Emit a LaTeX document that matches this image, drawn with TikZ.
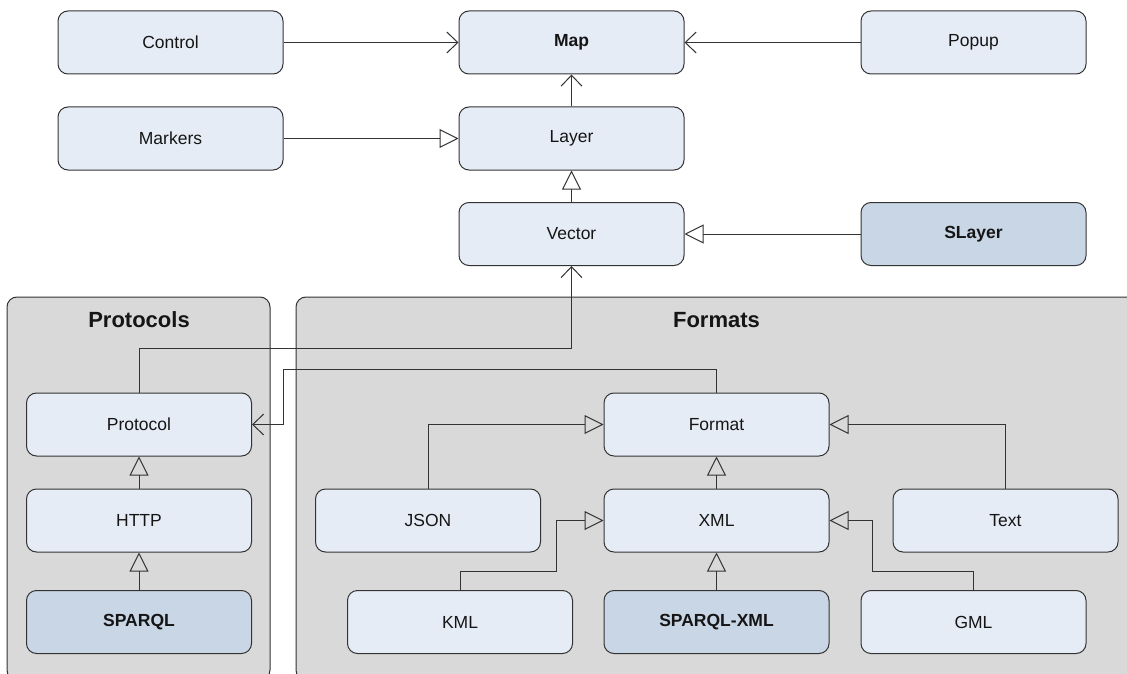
\documentclass[tikz,border=0pt]{standalone}
\usepackage{fontspec}
\setmainfont{Liberation Sans}
\usetikzlibrary{arrows.meta}
\definecolor{clsfill}{HTML}{E6ECF6}
\definecolor{keyfill}{HTML}{C9D6E5}
\definecolor{pkgfill}{HTML}{D9D9D9}
\definecolor{edge}{HTML}{333333}
\definecolor{ink}{HTML}{151515}
\begin{document}
\begin{tikzpicture}[x=1pt,y=-1pt,
  cls/.style={rectangle, rounded corners=10pt, draw=edge, line width=1pt,
    fill=clsfill, minimum width=225pt, minimum height=63pt, inner sep=0pt,
    text=ink, font=\fontsize{17.5}{21}\selectfont},
  keycls/.style={cls, fill=keyfill, font=\fontsize{17.5}{21}\selectfont\bfseries},
  pkg/.style={draw=edge, line width=1pt, fill=pkgfill, rounded corners=10pt},
  pkgtitle/.style={text=ink, font=\fontsize{22}{26}\selectfont\bfseries, inner sep=0pt},
  inherits/.style={draw=edge, line width=1pt, -{Triangle[open, length=19pt, width=19pt]}},
  uses/.style={draw=edge, line width=1pt, -{Straight Barb[length=11pt, width=21pt]}}]
\useasboundingbox (0,0) rectangle (1127,674);

% packages
\path[pkg] (7,297) rectangle (270,680);
\path[pkg] (296,297) rectangle (1140,680);
\node[pkgtitle] (tprot) at (139,320) {Protocols};
\node[pkgtitle] (tfmt) at (716.5,320) {Formats};

% classes
\node[cls] (control) at (170.5,42.5) {Control};
\node[cls, font=\fontsize{17.5}{21}\selectfont\bfseries] (map) at (571.5,42.5) {Map};
\node[cls] (popup) at (973.5,42.5) {Popup};
\node[cls] (markers) at (170.5,138.5) {Markers};
\node[cls] (layer) at (571.5,138.5) {Layer};
\node[cls] (vector) at (571.5,234) {Vector};
\node[keycls] (slayer) at (973.5,234) {SLayer};

\node[cls] (protocol) at (139,424.5) {Protocol};
\node[cls] (http) at (139,520.5) {HTTP};
\node[keycls] (sparql) at (139,622) {SPARQL};

\node[cls] (format) at (716.5,424.5) {Format};
\node[cls] (xml) at (716.5,520.5) {XML};
\node[keycls] (sxml) at (716.5,622) {SPARQL-XML};
\node[cls] (json) at (428,520.5) {JSON};
\node[cls] (text) at (1005.5,520.5) {Text};
\node[cls] (kml) at (460,622) {KML};
\node[cls] (gml) at (973.5,622) {GML};

% bend points
\coordinate (pv) at (571.5,348);
\coordinate (fp) at (283,369);
\coordinate (kx) at (556,571);
\coordinate (gx) at (872,571);

% associations
\draw[uses] (control) -- (map);
\draw[uses] (popup) -- (map);
\draw[uses] (layer) -- (map);
\draw[uses] (protocol.north) |- (pv) -- (vector.south);
\draw[uses] (format.north) |- (fp) |- (protocol.east);

% inheritance
\draw[inherits] (markers) -- (layer);
\draw[inherits] (vector) -- (layer);
\draw[inherits] (slayer) -- (vector);
\draw[inherits] (http) -- (protocol);
\draw[inherits] (sparql) -- (http);
\draw[inherits] (xml) -- (format);
\draw[inherits] (sxml) -- (xml);
\draw[inherits] (json.north) |- (format.west);
\draw[inherits] (text.north) |- (format.east);
\draw[inherits] (kml.north) |- (kx) |- (xml.west);
\draw[inherits] (gml.north) |- (gx) |- (xml.east);
\end{tikzpicture}
\end{document}
